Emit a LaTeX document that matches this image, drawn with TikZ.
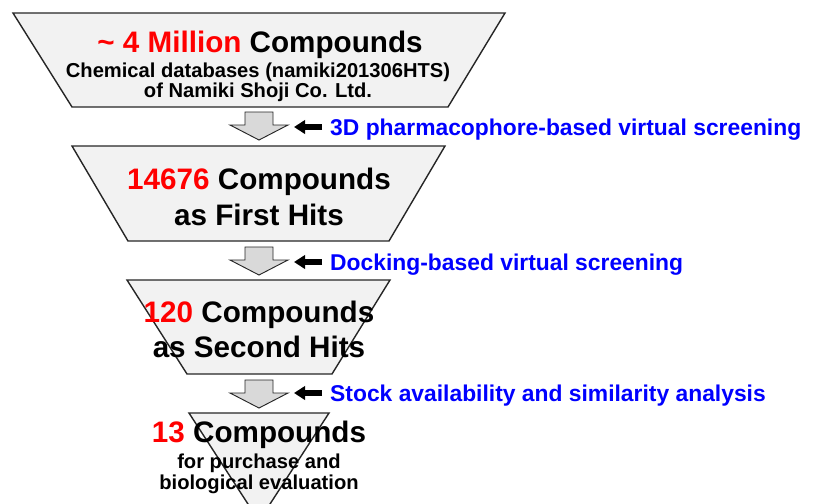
\documentclass[tikz,border=0pt]{standalone}
\usepackage{fontspec}
\setmainfont{Liberation Sans}
\usetikzlibrary{arrows.meta}

\definecolor{funnelgray}{RGB}{242,242,242}
\definecolor{arrowgray}{RGB}{217,217,217}
\definecolor{edgegray}{RGB}{38,38,38}
\definecolor{labelblue}{RGB}{0,0,255}

\newcommand{\bigline}{\fontsize{25.3}{25.3}\selectfont\bfseries}
\newcommand{\smallline}{\fontsize{17.2}{17.2}\selectfont\bfseries}
\newcommand{\stepline}{\fontsize{19.5}{19.5}\selectfont\bfseries}

\tikzset{
  funnel/.style={fill=funnelgray, draw=edgegray, line width=1.2pt, line join=miter},
  blockarrow/.style={fill=arrowgray, draw=edgegray, line width=0.8pt},
  pointer/.style={line width=4.5pt, -{Triangle[length=9.5pt,width=11.5pt]}},
  txt/.style={anchor=base, inner sep=0pt},
  steplabel/.style={anchor=base west, inner sep=0pt, text=labelblue}
}

\begin{document}
\begin{tikzpicture}[x=0.03cm, y=-0.03cm]

\useasboundingbox (0,0) rectangle (813,503);

%%%%%%%%%%%%%%%%%%%%%%%%%%%%%%%%%%%%%%%%%%%%%%%%%%%%%%%%%%%%%%%%
% Funnel stages
%%%%%%%%%%%%%%%%%%%%%%%%%%%%%%%%%%%%%%%%%%%%%%%%%%%%%%%%%%%%%%%%

% Stage 1
\draw [funnel] (13,13) -- (505,13) -- (448,107) -- (72,107) -- cycle;
\node (s1a) [txt] at (260,52) {\bigline{\color{red}\textasciitilde{} 4 Million} Compounds};
\node (s1b) [txt] at (258,77) {\smallline Chemical databases (namiki201306HTS)};
\node (s1c) [txt] at (258,97) {\smallline of Namiki Shoji Co. Ltd.};

% Stage 2
\draw [funnel] (72,146) -- (445,146) -- (389,241) -- (128,241) -- cycle;
\node (s2a) [txt] at (259,189) {\bigline{\color{red}14676} Compounds};
\node (s2b) [txt] at (259,225) {\bigline as First Hits};

% Stage 3
\draw [funnel] (127,280) -- (390,280) -- (332,374) -- (187,374) -- cycle;
\node (s3a) [txt] at (259,322) {\bigline{\color{red}120} Compounds};
\node (s3b) [txt] at (259,357) {\bigline as Second Hits};

% Stage 4
\draw [funnel] (189,413) -- (329,413) -- (259,521) -- cycle;
\node (s4a) [txt] at (259,442) {\bigline{\color{red}13} Compounds};
\node (s4b) [txt] at (259,468) {\smallline for purchase and};
\node (s4c) [txt] at (259,489) {\smallline biological evaluation};

%%%%%%%%%%%%%%%%%%%%%%%%%%%%%%%%%%%%%%%%%%%%%%%%%%%%%%%%%%%%%%%%
% Screening steps
%%%%%%%%%%%%%%%%%%%%%%%%%%%%%%%%%%%%%%%%%%%%%%%%%%%%%%%%%%%%%%%%

% gray down arrows
\foreach \y in {112,247,380}
  \draw [blockarrow] (245,\y) -- ++(28,0) -- ++(0,13) -- ++(15,0)
        -- (259,\y+28) -- (230,\y+13) -- ++(15,0) -- cycle;

% labels
\node (lab1) [steplabel] at (330,135) {\stepline 3D pharmacophore-based virtual screening};
\node (lab2) [steplabel] at (330,270.5) {\stepline Docking-based virtual screening};
\node (lab3) [steplabel] at (330,401.5) {\stepline Stock availability and similarity analysis};

% black pointers
\coordinate (p1) at (294,127);
\coordinate (p2) at (294,262);
\coordinate (p3) at (294,393);
\draw [pointer] (lab1.west |- p1) ++(-8,0) -- (p1);
\draw [pointer] (lab2.west |- p2) ++(-8,0) -- (p2);
\draw [pointer] (lab3.west |- p3) ++(-8,0) -- (p3);

\end{tikzpicture}
\end{document}
